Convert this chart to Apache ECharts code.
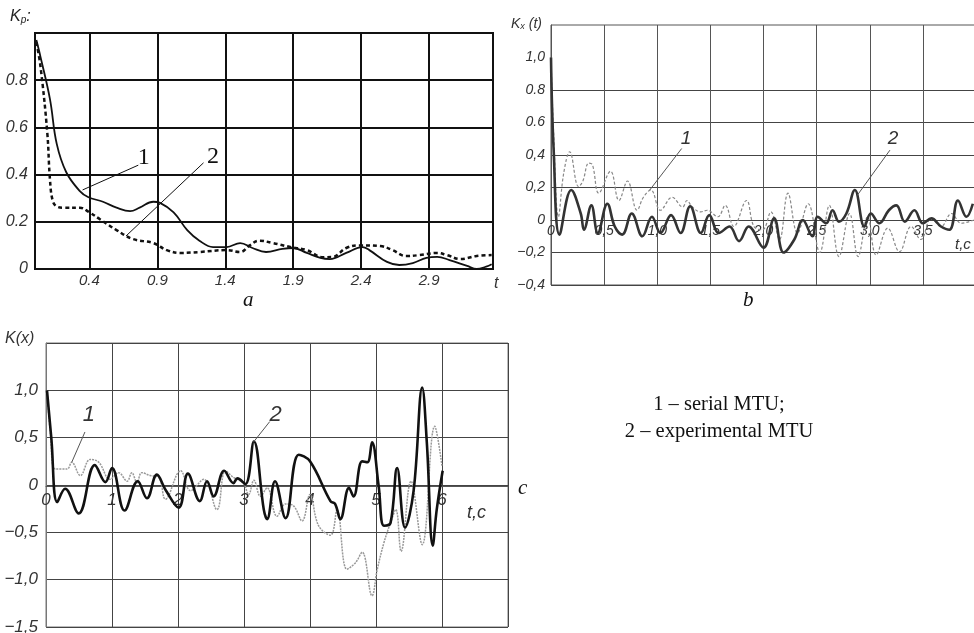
<!DOCTYPE html>
<html>
<head>
<meta charset="utf-8">
<script src="https://cdn.jsdelivr.net/npm/echarts@6/dist/echarts.min.js"></script>
<style>
  html, body { margin: 0; padding: 0; background: #fff; }
  #chart { width: 974px; height: 633px; }
</style>
</head>
<body>
<div id="chart"></div>
<script>
// --- chart a: Kp(t), curve 1 solid, curve 2 dashed
var aX1 = [0.01, 0.04, 0.11, 0.16, 0.23, 0.33, 0.39, 0.5, 0.6, 0.7, 0.77, 0.87, 0.92, 1.02, 1.12, 1.21, 1.31, 1.41, 1.51, 1.6, 1.7, 1.82, 1.9, 2.0, 2.1, 2.17, 2.29, 2.41, 2.46, 2.59, 2.68, 2.78, 2.88, 2.96, 3.05, 3.18, 3.25, 3.32, 3.36];
var aY1 = [0.97, 0.9, 0.72, 0.53, 0.41, 0.33, 0.305, 0.285, 0.26, 0.245, 0.26, 0.285, 0.28, 0.24, 0.165, 0.12, 0.093, 0.093, 0.11, 0.089, 0.072, 0.085, 0.089, 0.068, 0.047, 0.042, 0.068, 0.093, 0.08, 0.03, 0.017, 0.025, 0.047, 0.051, 0.038, 0.013, 0.0, 0.01, 0.02];
var aX2 = [0.01, 0.04, 0.09, 0.11, 0.13, 0.16, 0.21, 0.33, 0.4, 0.48, 0.6, 0.72, 0.87, 0.97, 1.07, 1.21, 1.41, 1.51, 1.58, 1.65, 1.75, 1.88, 2.0, 2.12, 2.19, 2.29, 2.39, 2.54, 2.63, 2.73, 2.83, 2.96, 3.03, 3.13, 3.25, 3.36];
var aY2 = [0.96, 0.86, 0.58, 0.38, 0.29, 0.265, 0.26, 0.26, 0.24, 0.21, 0.165, 0.127, 0.11, 0.08, 0.068, 0.072, 0.08, 0.072, 0.10, 0.12, 0.11, 0.093, 0.08, 0.05, 0.051, 0.089, 0.10, 0.097, 0.08, 0.055, 0.059, 0.068, 0.059, 0.042, 0.055, 0.059];
var aXTicks = [0.4, 0.9, 1.4, 1.9, 2.4, 2.9];
var aYTicks = [0, 0.2, 0.4, 0.6, 0.8];

// --- chart b: Kx(t)
var bX1 = [0, 0.025, 0.07, 0.12, 0.176, 0.26, 0.3, 0.355, 0.39, 0.45, 0.56, 0.64, 0.72, 0.81, 0.87, 0.94, 1.03, 1.14, 1.24, 1.28, 1.33, 1.41, 1.47, 1.57, 1.64, 1.72, 1.84, 1.91, 1.99, 2.07, 2.15, 2.23, 2.32, 2.42, 2.53, 2.62, 2.71, 2.81, 2.89, 2.98, 3.06, 3.17, 3.28, 3.39, 3.48, 3.58, 3.67, 3.77, 3.86, 3.98];
var bY1 = [1.0, 0.53, 0.02, 0.29, 0.42, 0.205, 0.24, 0.35, 0.34, 0.165, 0.30, 0.12, 0.24, 0.06, 0.14, 0.185, 0.06, 0.14, 0.08, 0.12, 0.08, 0.05, 0.06, 0.02, 0.09, -0.04, 0.12, -0.04, -0.06, 0.05, -0.12, 0.165, -0.08, 0.10, -0.2, 0.09, -0.225, 0.04, -0.225, 0.02, -0.215, -0.05, -0.195, -0.04, -0.12, 0.01, -0.04, 0.04, -0.02, 0];
var bX2 = [0, 0.025, 0.08, 0.19, 0.28, 0.31, 0.38, 0.44, 0.53, 0.6, 0.67, 0.76, 0.86, 0.95, 1.03, 1.13, 1.22, 1.31, 1.41, 1.49, 1.58, 1.68, 1.77, 1.86, 2.0, 2.1, 2.19, 2.29, 2.37, 2.46, 2.51, 2.59, 2.65, 2.71, 2.78, 2.86, 2.95, 3.01, 3.09, 3.18, 3.25, 3.33, 3.42, 3.5, 3.58, 3.67, 3.75, 3.83, 3.91, 3.97];
var bY2 = [1.0, 0.43, -0.09, 0.185, 0.04, -0.06, 0.09, -0.08, 0.10, -0.04, -0.09, 0.04, -0.10, 0.02, -0.08, 0.03, -0.08, 0.085, -0.08, 0.03, -0.08, -0.04, -0.13, -0.04, -0.17, 0.01, -0.2, -0.12, 0, -0.1, 0.02, -0.02, 0.06, -0.01, 0.04, 0.185, -0.04, 0.04, -0.02, 0.06, 0.09, -0.01, 0.06, -0.02, 0.01, -0.04, -0.06, 0.12, 0.02, 0.10];
var bXLabels = ['0', '0,5', '1,0', '1,5', '2,0', '2,5', '3,0', '3,5'];
var bYValues = [-0.4, -0.2, 0, 0.2, 0.4, 0.6, 0.8, 1.0];
var bYLabels = ['\u22120,4', '\u22120,2', '0', '0,2', '0,4', '0.6', '0.8', '1,0'];
var bYLines = [-0.4, -0.2, 0, 0.2, 0.4, 0.6, 0.8];

// --- chart c: K(x)
var cX1 = [0.015, 0.07, 0.14, 0.32, 0.39, 0.52, 0.67, 0.8, 0.97, 1.1, 1.23, 1.3, 1.38, 1.45, 1.58, 1.71, 1.81, 2.04, 2.19, 2.39, 2.59, 2.72, 2.84, 2.99, 3.07, 3.15, 3.25, 3.35, 3.5, 3.63, 3.75, 3.88, 4.0, 4.13, 4.31, 4.41, 4.56, 4.69, 4.79, 4.94, 5.02, 5.12, 5.22, 5.3, 5.38, 5.53, 5.7, 5.89, 6.0];
var cY1 = [1.0, 0.52, 0.17, 0.17, 0.24, 0.10, 0.27, 0.24, 0.06, 0.13, 0.04, 0.13, 0.025, 0.13, 0.10, 0.08, -0.15, 0.15, -0.06, 0.06, -0.26, 0.15, 0.08, 0.02, -0.10, 0.05, -0.12, -0.03, -0.33, -0.20, -0.22, -0.38, -0.10, -0.43, -0.53, -0.26, -0.89, -0.82, -0.71, -1.17, -0.89, -0.61, -0.40, -0.26, -0.70, 0.04, -0.63, 0.62, 0.20];
var cX2 = [0.015, 0.08, 0.17, 0.29, 0.495, 0.74, 0.9, 1.0, 1.19, 1.39, 1.53, 1.68, 1.81, 2.01, 2.15, 2.33, 2.44, 2.54, 2.7, 2.84, 2.9, 3.02, 3.15, 3.3, 3.35, 3.47, 3.63, 3.83, 4.0, 4.31, 4.38, 4.46, 4.59, 4.66, 4.79, 4.87, 4.94, 5.04, 5.12, 5.22, 5.32, 5.44, 5.57, 5.7, 5.77, 5.86, 5.92, 6.01];
var cY2 = [1.0, 0.5, -0.18, -0.04, -0.30, 0.21, 0.03, 0.18, -0.27, 0.04, -0.14, 0.11, -0.05, -0.24, 0.12, -0.17, 0.04, -0.12, 0.15, 0.02, 0.07, 0.01, 0.46, -0.26, -0.36, 0.04, -0.35, 0.32, 0.25, -0.17, -0.20, -0.36, -0.03, -0.12, 0.25, 0.24, 0.45, -0.01, -0.43, -0.40, 0.18, -0.45, -0.06, 1.03, 0.45, -0.64, -0.26, 0.15];
var cXLabels = [0, 1, 2, 3, 4, 5, 6];
var cYValues = [-1.5, -1.0, -0.5, 0, 0.5, 1.0];
var cYLabels = ['\u22121,5', '\u22121,0', '\u22120,5', '0', '0,5', '1,0'];

function zip(xs, ys) {
    return xs.map(function (x, i) { return [x, ys[i]]; });
}
function lookup(values, labels) {
    return function (v) {
        for (var i = 0; i < values.length; i++) {
            if (Math.abs(values[i] - v) < 1e-6) return labels[i];
        }
        return '';
    };
}
function leader(x1, y1, x2, y2, color) {
    return {
        silent: true, symbol: ['none', 'none'], animation: false,
        label: { show: false },
        lineStyle: { type: 'solid', color: color, width: 1 },
        data: [[{ coord: [x1, y1] }, { coord: [x2, y2] }]]
    };
}
function tag(x, y, text, font) {
    return {
        silent: true, symbol: 'circle', symbolSize: 1, animation: false,
        itemStyle: { color: 'rgba(0,0,0,0)' },
        label: Object.assign({ show: true, position: 'inside', formatter: text }, font),
        data: [{ coord: [x, y] }]
    };
}

var tickFont = { fontFamily: 'Liberation Sans Narrow, Liberation Sans, sans-serif', fontStyle: 'italic', color: '#333' };

var chart = echarts.init(document.getElementById('chart'));
var option = {
    backgroundColor: '#fff',
    animation: false,
    grid: [
        { left: 35, top: 33, width: 458, height: 236, outerBoundsMode: 'none', show: true, borderColor: '#111', borderWidth: 2 },
        { left: 551, top: 25, width: 425, height: 260, outerBoundsMode: 'none', show: true, borderColor: '#555', borderWidth: 1 },
        { left: 46, top: 343, width: 462, height: 284, outerBoundsMode: 'none', show: true, borderColor: '#777', borderWidth: 1 }
    ],
    xAxis: [
        {
            gridIndex: 0, type: 'value', min: 0, max: 3.37,
            axisLine: { lineStyle: { color: '#111', width: 2 } },
            axisTick: { show: false, customValues: aXTicks },
            axisLabel: Object.assign({ customValues: aXTicks, fontSize: 15, margin: 4, formatter: function (v) { return v.toFixed(1); } }, tickFont),
            splitLine: { show: true, lineStyle: { color: '#111', width: 2 } }
        },
        {
            // labels sit on the zero line (65px above the bottom edge)
            gridIndex: 1, type: 'value', min: 0, max: 4.0, interval: 0.5, offset: -65,
            axisLine: { onZero: false, lineStyle: { color: '#444', width: 1 } },
            axisTick: { show: false },
            axisLabel: Object.assign({ fontSize: 14, margin: 4, formatter: function (v) { return bXLabels[Math.round(v * 2)] || ''; } }, tickFont),
            splitLine: { show: true, lineStyle: { color: '#555', width: 1 } }
        },
        {
            gridIndex: 2, type: 'value', min: 0, max: 7, interval: 1, offset: -141,
            axisLine: { onZero: false, lineStyle: { color: '#555', width: 1 } },
            axisTick: { show: false },
            axisLabel: Object.assign({ customValues: cXLabels, fontSize: 17, margin: 6, formatter: function (v) { return String(v); } }, tickFont),
            splitLine: { show: true, lineStyle: { color: '#444', width: 1 } }
        }
    ],
    yAxis: [
        {
            gridIndex: 0, type: 'value', min: 0, max: 1, interval: 0.2,
            axisLine: { show: true, lineStyle: { color: '#111', width: 2 } },
            axisTick: { show: false },
            axisLabel: Object.assign({ customValues: aYTicks, fontSize: 16, margin: 7, formatter: function (v) { return v === 0 ? '0' : v.toFixed(1); } }, tickFont),
            splitLine: { show: true, lineStyle: { color: '#111', width: 2 } }
        },
        {
            gridIndex: 1, type: 'value', min: -0.4, max: 1.2,
            axisLine: { show: true, lineStyle: { color: '#555', width: 1 } },
            axisTick: { show: false, customValues: bYLines },
            axisLabel: Object.assign({ customValues: bYValues, fontSize: 14, margin: 6, formatter: lookup(bYValues, bYLabels) }, tickFont),
            splitLine: { show: true, lineStyle: { color: '#444', width: 1 } }
        },
        {
            gridIndex: 2, type: 'value', min: -1.5, max: 1.5, interval: 0.5,
            axisLine: { show: true, lineStyle: { color: '#777', width: 1 } },
            axisTick: { show: false },
            axisLabel: Object.assign({ customValues: cYValues, fontSize: 17, margin: 8, formatter: lookup(cYValues, cYLabels) }, tickFont),
            splitLine: { show: true, lineStyle: { color: '#444', width: 1 } }
        }
    ],
    series: [
        {
            type: 'line', xAxisIndex: 0, yAxisIndex: 0, data: zip(aX1, aY1), smooth: 0.4, showSymbol: false,
            lineStyle: { color: '#111', width: 1.8 },
            markLine: leader(0.35, 0.335, 0.76, 0.44, '#111'),
            markPoint: tag(0.8, 0.47, '1', { fontFamily: 'Liberation Serif, serif', fontSize: 24, color: '#111' })
        },
        {
            type: 'line', xAxisIndex: 0, yAxisIndex: 0, data: zip(aX2, aY2), smooth: 0.4, showSymbol: false,
            lineStyle: { color: '#111', width: 2.5, type: [4, 3] },
            markLine: leader(0.67, 0.14, 1.24, 0.45, '#111'),
            markPoint: tag(1.31, 0.475, '2', { fontFamily: 'Liberation Serif, serif', fontSize: 24, color: '#111' })
        },
        {
            type: 'line', xAxisIndex: 1, yAxisIndex: 1, data: zip(bX1, bY1), smooth: 0.4, showSymbol: false,
            lineStyle: { color: '#888', width: 1.2, type: [3, 2] },
            markLine: leader(0.93, 0.185, 1.23, 0.44, '#555'),
            markPoint: tag(1.27, 0.5, '1', { fontFamily: 'Liberation Sans, sans-serif', fontStyle: 'italic', fontSize: 19, color: '#333' })
        },
        {
            type: 'line', xAxisIndex: 1, yAxisIndex: 1, data: zip(bX2, bY2), smooth: 0.4, showSymbol: false,
            lineStyle: { color: '#333', width: 2.6 },
            markLine: leader(2.88, 0.15, 3.19, 0.43, '#555'),
            markPoint: tag(3.22, 0.5, '2', { fontFamily: 'Liberation Sans, sans-serif', fontStyle: 'italic', fontSize: 19, color: '#333' })
        },
        {
            type: 'line', xAxisIndex: 2, yAxisIndex: 2, data: zip(cX1, cY1), smooth: 0.4, showSymbol: false,
            lineStyle: { color: '#999', width: 1.5, type: [2, 1] },
            markLine: leader(0.39, 0.24, 0.59, 0.56, '#555'),
            markPoint: tag(0.65, 0.74, '1', { fontFamily: 'Liberation Sans, sans-serif', fontStyle: 'italic', fontSize: 22, color: '#333' })
        },
        {
            type: 'line', xAxisIndex: 2, yAxisIndex: 2, data: zip(cX2, cY2), smooth: 0.4, showSymbol: false,
            lineStyle: { color: '#111', width: 2.6 },
            markLine: leader(3.14, 0.45, 3.39, 0.67, '#555'),
            markPoint: tag(3.48, 0.74, '2', { fontFamily: 'Liberation Sans, sans-serif', fontStyle: 'italic', fontSize: 22, color: '#333' })
        }
    ],
    graphic: [
        // axis names
        { type: 'text', left: 10, top: 9, style: { rich: { k: { fontSize: 16, fontStyle: 'italic', fontFamily: 'Liberation Sans Narrow, Liberation Sans', fill: '#222' }, s: { fontSize: 10, fontStyle: 'italic', fill: '#222', padding: [6, 0, 0, 0] } }, text: '{k|K}{s|p}{k|:}' } },
        { type: 'text', left: 494, top: 276, style: { text: 't', font: 'italic 16px "Liberation Sans Narrow", "Liberation Sans"', fill: '#333' } },
        { type: 'text', left: 511, top: 17, style: { rich: { k: { fontSize: 14, fontStyle: 'italic', fontFamily: 'Liberation Sans Narrow, Liberation Sans', fill: '#333' }, s: { fontSize: 9, fontStyle: 'italic', fill: '#333', padding: [5, 0, 0, 0] } }, text: '{k|K}{s|x}{k| (t)}' } },
        { type: 'text', left: 955, top: 237, style: { text: 't,c', font: 'italic 15px "Liberation Sans Narrow", "Liberation Sans"', fill: '#333' } },
        { type: 'text', left: 5, top: 331, style: { text: 'K(x)', font: 'italic 16px "Liberation Sans Narrow", "Liberation Sans"', fill: '#333' } },
        { type: 'text', left: 467, top: 504, style: { text: 't,c', font: 'italic 18px "Liberation Sans Narrow", "Liberation Sans"', fill: '#333' } },
        // panel letters
        { type: 'text', left: 243, top: 290, style: { text: 'a', font: 'italic 21px "Liberation Serif", serif', fill: '#111' } },
        { type: 'text', left: 743, top: 290, style: { text: 'b', font: 'italic 21px "Liberation Serif", serif', fill: '#111' } },
        { type: 'text', left: 518, top: 478, style: { text: 'c', font: 'italic 21px "Liberation Serif", serif', fill: '#111' } },
        // legend
        { type: 'text', x: 719, y: 394, style: { text: '1 \u2013 serial MTU;', font: '20.5px "Liberation Serif", serif', fill: '#111', align: 'center' } },
        { type: 'text', x: 719, y: 421, style: { text: '2 \u2013 experimental MTU', font: '20.5px "Liberation Serif", serif', fill: '#111', align: 'center' } }
    ]
};
chart.setOption(option);
</script>
</body>
</html>
